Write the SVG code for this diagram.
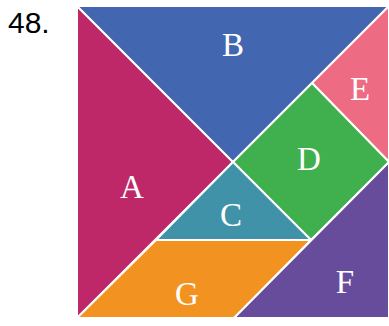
<svg xmlns="http://www.w3.org/2000/svg" width="389" height="326" viewBox="0 0 389 326">
<style>
.p{stroke:#ffffff;stroke-width:2;stroke-linejoin:round}
.l{font-family:"Liberation Serif","DejaVu Serif",serif;font-size:33px;fill:#ffffff;text-anchor:middle}
.n{font-family:"Liberation Sans",Arial,sans-serif;font-size:30px;fill:#000000}
</style>
<rect width="389" height="326" fill="#ffffff"/>
<text class="n" x="8" y="33">48.</text>
<g id="A"><polygon class="p" fill="#BE2868" points="77,6 233,162 77,318"/><text class="l" x="132" y="198">A</text></g>
<g id="B"><polygon class="p" fill="#4366B0" points="77,6 389,6 233,162"/><text class="l" x="233" y="56">B</text></g>
<g id="E"><polygon class="p" fill="#EE6B84" points="389,6 389,162 312,83"/><text class="l" x="360" y="100">E</text></g>
<g id="D"><polygon class="p" fill="#40AF4E" points="312,83 389,162 311,240 233,162"/><text class="l" x="309" y="170">D</text></g>
<g id="C"><polygon class="p" fill="#3F92A8" points="233,162 311,240 156,240"/><text class="l" x="231" y="226">C</text></g>
<g id="G"><polygon class="p" fill="#F29220" points="156,240 311,240 234,318 77,318"/><text class="l" x="187" y="305">G</text></g>
<g id="F"><polygon class="p" fill="#684C9C" points="389,162 389,318 234,318"/><text class="l" x="345" y="293">F</text></g>
<g id="connectors"></g>
</svg>
